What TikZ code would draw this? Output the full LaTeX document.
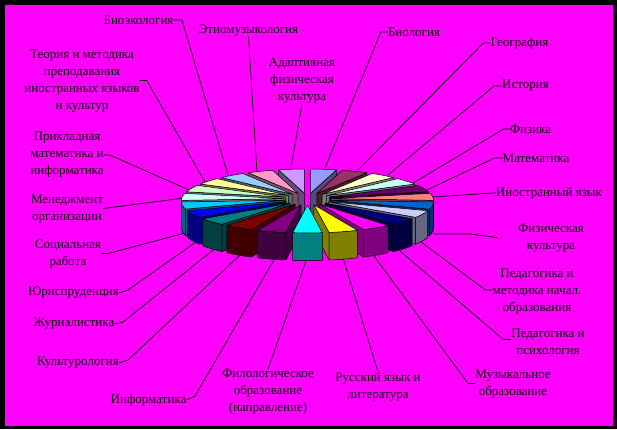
\documentclass[tikz,border=0pt]{standalone}
\usepackage{fontspec}
\setmainfont{Liberation Serif}
\usetikzlibrary{calc}
\definecolor{fon}{HTML}{FF00FF}
% slice colours, clockwise from the top
\definecolor{s0}{HTML}{9999FF}
\definecolor{s1}{HTML}{993366}
\definecolor{s2}{HTML}{FFFFCC}
\definecolor{s3}{HTML}{CCFFFF}
\definecolor{s4}{HTML}{660066}
\definecolor{s5}{HTML}{FF8080}
\definecolor{s6}{HTML}{0066CC}
\definecolor{s7}{HTML}{CCCCFF}
\definecolor{s8}{HTML}{000080}
\definecolor{s9}{HTML}{FF00FF}
\definecolor{s10}{HTML}{FFFF00}
\definecolor{s11}{HTML}{00FFFF}
\definecolor{s12}{HTML}{800080}
\definecolor{s13}{HTML}{800000}
\definecolor{s14}{HTML}{008080}
\definecolor{s15}{HTML}{0000FF}
\definecolor{s16}{HTML}{00CCFF}
\definecolor{s17}{HTML}{CCFFFF}
\definecolor{s18}{HTML}{CCFFCC}
\definecolor{s19}{HTML}{FFFF99}
\definecolor{s20}{HTML}{99CCFF}
\definecolor{s21}{HTML}{FF99CC}
\definecolor{s22}{HTML}{CC99FF}
\begin{document}
\begin{tikzpicture}[x=1pt,y=-1pt,
    declare function={PX(\p,\q)=307.5+102.5*\p*(1-0.05*\q);
                      PY(\q,\h)=199+(26*\h-26*\q)*(1-0.05*\q);},
    lab/.style={font=\fontsize{13}{17}\selectfont,align=center,inner sep=0pt},
    lead/.style={line width=0.7pt},
    slice/.style={draw=black,line width=0.5pt,line join=round}]
    \fill[black] (0,0) rectangle (617,429);
    \fill[fon] (5,5) rectangle (613,426);

    % labels
    \node[lab] (bio) at (414,32) {Биология};
    \node[lab] (geo) at (519.5,43) {География};
    \node[lab] (ist) at (525.5,86) {История};
    \node[lab] (fiz) at (530.5,129) {Физика};
    \node[lab] (matem) at (536,158) {Математика};
    \node[lab] (inostr) at (549,193) {Иностранный язык};
    \node[lab] (fizkult) at (551,238.5) {Физическая\\ культура};
    \node[lab] (pednach) at (537,292) {Педагогика и\\ методика начал.\\ образования};
    \node[lab] (pedpsy) at (548,341.5) {Педагогика и\\ психология};
    \node[lab] (muz) at (513,384.5) {Музыкальное\\ образование};
    \node[lab] (rus) at (378,386.5) {Русский язык и\\ литература};
    \node[lab] (filol) at (268,392) {Филологическое\\ образование\\ (направление)};
    \node[lab] (inform) at (148.5,400) {Информатика};
    \node[lab] (kult) at (78,363) {Культурология};
    \node[lab] (zhurn) at (74,324) {Журналистика};
    \node[lab] (jur) at (73.5,293) {Юриспруденция};
    \node[lab] (soc) at (68,254.5) {Социальная\\ работа};
    \node[lab] (menedzh) at (67,209.5) {Менеджмент\\ организации};
    \node[lab] (prikl) at (67,155) {Прикладная\\ математика и\\ информатика};
    \node[lab] (teoria) at (82,81.5) {Теория и методика\\ преподавания\\ иностранных языков\\ и культур};
    \node[lab] (bioeco) at (138.5,20) {Биоэкология};
    \node[lab] (etno) at (248.5,31) {Этномузыкология};
    \node[lab] (adapt) at (302,81) {Адаптивная\\ физическая\\ культура};

    % ends of the leaders on the pie
    \coordinate (p-bio) at (325,168);
    \coordinate (p-geo) at (358,170);
    \coordinate (p-ist) at (388,175);
    \coordinate (p-fiz) at (413,183);
    \coordinate (p-matem) at (427,190);
    \coordinate (p-inostr) at (433,197);
    \coordinate (p-fizkult) at (433,234);
    \coordinate (p-pednach) at (421,242);
    \coordinate (p-pedpsy) at (400,251);
    \coordinate (p-muz) at (374,256);
    \coordinate (p-rus) at (343,258);
    \coordinate (p-filol) at (307,258);
    \coordinate (p-inform) at (275,258);
    \coordinate (p-kult) at (240,255);
    \coordinate (p-zhurn) at (213,250);
    \coordinate (p-jur) at (196,242);
    \coordinate (p-soc) at (185,233);
    \coordinate (p-menedzh) at (184,198);
    \coordinate (p-prikl) at (189,190);
    \coordinate (p-teoria) at (205,182);
    \coordinate (p-bioeco) at (228,175);
    \coordinate (p-etno) at (257,173);
    \coordinate (p-adapt) at (291,168);

    \draw[lead] (bio.west) -- ++(-7,0) -- (p-bio);
    \draw[lead] (geo.west) -- ++(-7,0) -- (p-geo);
    \draw[lead] (ist.west) -- ++(-8,0) -- (p-ist);
    \draw[lead] (fiz.west) -- ++(-6,0) -- (p-fiz);
    \draw[lead] (matem.west) -- ++(-8,0) -- (p-matem);
    \draw[lead] (inostr.west) -- ++(-3,0) -- (p-inostr);
    \draw[lead] (p-fizkult) -- ++(37,0) -- ($(fizkult.west)+(-21,-1)$);
    \draw[lead] (p-pednach) -- ($(pednach.west)+(-7,-2)$) -- ($(pednach.west)+(0,-2)$);
    \draw[lead] (p-pedpsy) -- ($(pedpsy.west)+(-8,-2)$) -- ($(pedpsy.west)+(0,-2)$);
    \draw[lead] (p-muz) -- ($(muz.west)+(-7,-1)$) -- ($(muz.west)+(0,-1)$);
    \draw[lead] (p-rus) -- (rus.north);
    \draw[lead] (p-filol) -- (filol.north);
    \draw[lead] (p-inform) -- ++(-80,138) -- (inform.east);
    \draw[lead] (p-kult) -- ++(-112,105) -- (kult.east);
    \draw[lead] (p-zhurn) -- ++(-90,72) -- (zhurn.east);
    \draw[lead] (p-jur) -- ++(-68,48) -- (jur.east);
    \draw[lead] (p-soc) -- ($(soc.east)+(7,-1)$) -- ($(soc.east)+(0,-1)$);
    \draw[lead] (p-menedzh) -- ($(menedzh.east)+(0,-1)$);
    \draw[lead] (p-prikl) -- ($(prikl.east)+(6,0)$) -- (prikl.east);
    \draw[lead] (p-teoria) -- ($(teoria.east)+(7,-1)$) -- ($(teoria.east)+(0,-1)$);
    \draw[lead] (p-bioeco) -- ++(-46,-155) -- (bioeco.east);
    \draw[lead] (p-etno) -- (etno.south);
    \draw[lead] (p-adapt) -- (adapt.south);

    % exploded pie, back slices first
    \foreach \k in {0,22,1,21,2,20,3,19,4,18,5,17,6,16,7,15,8,14,9,13,10,12,11}{
      \pgfmathsetmacro\ta{\k*360/23}
      \pgfmathsetmacro\tb{(\k+1)*360/23}
      \pgfmathsetmacro\tm{(\k+0.5)*360/23}
      \pgfmathsetmacro\ex{0.23*sin(\tm)}
      \pgfmathsetmacro\ey{0.23*cos(\tm)}
      \ifnum\k<11 \let\tw\tb \else \let\tw\ta \fi
      \coordinate (c0) at ({PX(\ex,\ey)},{PY(\ey,0)});
      \coordinate (c1) at ({PX(\ex,\ey)},{PY(\ey,1)});
      \coordinate (w0) at ({PX(\ex+sin(\tw),\ey+cos(\tw))},{PY(\ey+cos(\tw),0)});
      \coordinate (w1) at ({PX(\ex+sin(\tw),\ey+cos(\tw))},{PY(\ey+cos(\tw),1)});
      \ifnum\k=11 \else
        \filldraw[slice,fill=s\k!50!black] (c0) -- (w0) -- (w1) -- (c1) -- cycle;
      \fi
      \pgfmathsetmacro\sa{max(\ta,90)}
      \pgfmathsetmacro\sb{min(\tb,270)}
      \pgfmathtruncatemacro\vis{\sa<\sb}
      \ifnum\vis=1
        \filldraw[slice,fill=s\k!50!black]
          plot[domain=\sa:\sb,samples=8] ({PX(\ex+sin(\x),\ey+cos(\x))},{PY(\ey+cos(\x),0)})
          -- plot[domain=\sb:\sa,samples=8] ({PX(\ex+sin(\x),\ey+cos(\x))},{PY(\ey+cos(\x),1)}) -- cycle;
      \fi
      \filldraw[slice,fill=s\k] (c0)
        -- plot[domain=\ta:\tb,samples=8] ({PX(\ex+sin(\x),\ey+cos(\x))},{PY(\ey+cos(\x),0)}) -- cycle;
    }
\end{tikzpicture}
\end{document}
